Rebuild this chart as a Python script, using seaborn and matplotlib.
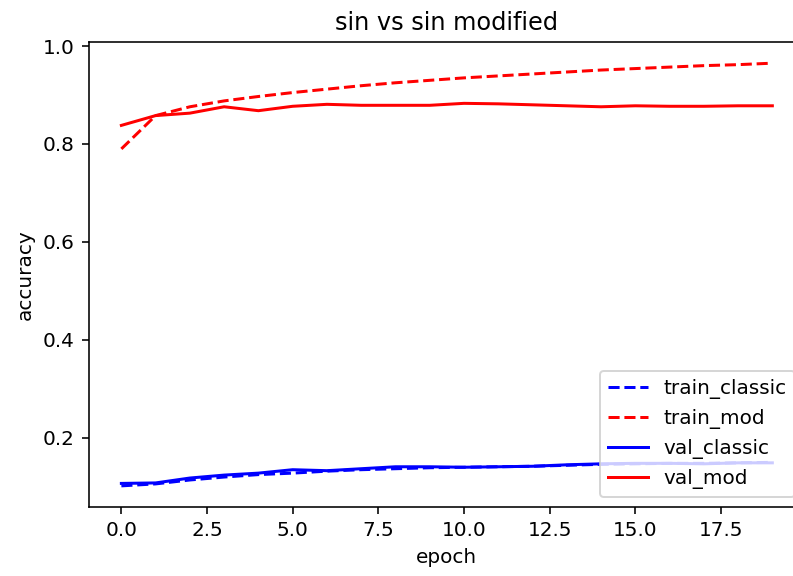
import numpy as np
import matplotlib
matplotlib.use("Agg")
import matplotlib.pyplot as plt
import seaborn as sns

# accuracy per epoch
epochs = list(range(20))
train_classic = [0.102, 0.106, 0.114, 0.120, 0.125, 0.128, 0.132, 0.135, 0.137, 0.139,
                 0.140, 0.141, 0.142, 0.144, 0.146, 0.147, 0.148, 0.148, 0.149, 0.150]
train_mod = [0.790, 0.858, 0.876, 0.888, 0.897, 0.905, 0.912, 0.919, 0.925, 0.930,
             0.935, 0.939, 0.943, 0.947, 0.951, 0.954, 0.957, 0.960, 0.962, 0.965]
val_classic = [0.107, 0.108, 0.118, 0.124, 0.128, 0.135, 0.133, 0.137, 0.141, 0.141,
               0.140, 0.141, 0.142, 0.145, 0.147, 0.148, 0.148, 0.147, 0.149, 0.149]
val_mod = [0.838, 0.858, 0.863, 0.876, 0.868, 0.877, 0.881, 0.879, 0.879, 0.879,
           0.883, 0.882, 0.880, 0.878, 0.876, 0.878, 0.877, 0.877, 0.878, 0.878]

fig = plt.figure(figsize=(793 / 144, 576 / 144), dpi=144)
# axes run slightly past the right edge, as in the (cropped) original
ax = fig.add_axes([0.112, 0.1198, 0.903, 0.8072])

sns.lineplot(x=epochs, y=train_classic, color="blue", linestyle="--", label="train_classic", ax=ax)
sns.lineplot(x=epochs, y=train_mod, color="red", linestyle="--", label="train_mod", ax=ax)
sns.lineplot(x=epochs, y=val_classic, color="blue", label="val_classic", ax=ax)
sns.lineplot(x=epochs, y=val_mod, color="red", label="val_mod", ax=ax)

ax.set_title("sin vs sin modified")
ax.set_xlabel("epoch")
ax.set_ylabel("accuracy")
ax.legend(loc="lower right")

fig.savefig("out.png", dpi=144)
